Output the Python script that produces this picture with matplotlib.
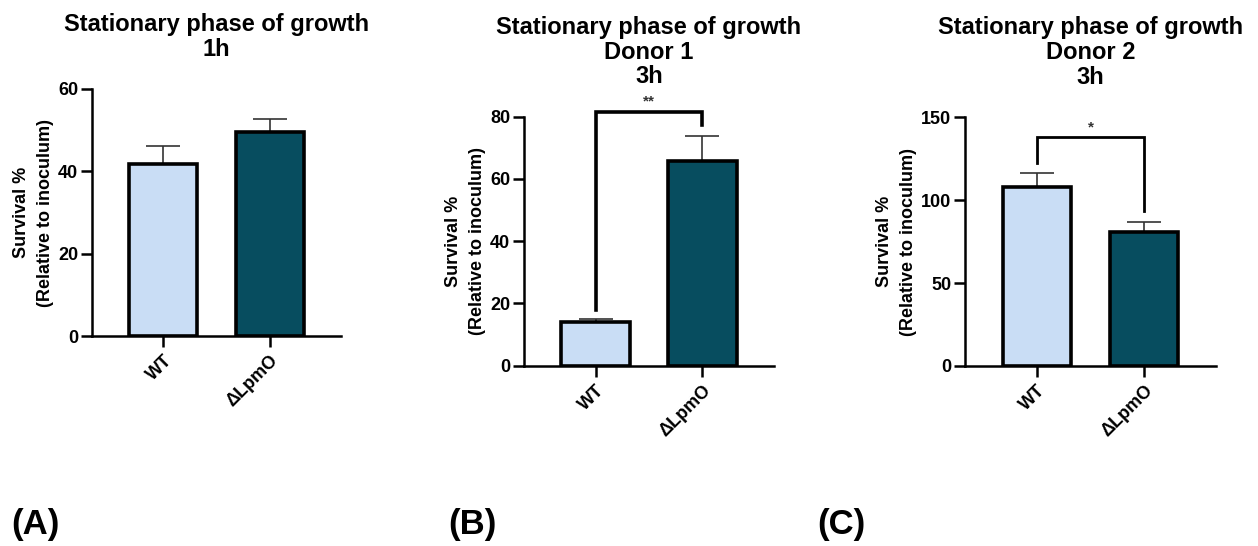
import matplotlib
matplotlib.use('Agg')
import numpy as np
from matplotlib import pyplot as plt

plt.rcParams['font.family'] = ['Liberation Sans', 'DejaVu Sans']
plt.rcParams['font.weight'] = 'bold'

groups = ['WT', 'ΔLpmO']
colors = ['#C9DDF5', '#074D5F']

# panel A: 1h
a_means = [41.8, 49.6]
a_err = [4.4, 3.1]
# panel B: donor 1, 3h
b_means = [14.0, 65.7]
b_err = [1.0, 8.0]
# panel C: donor 2, 3h
c_means = [108.0, 80.6]
c_err = [8.6, 6.4]

titles = ['Stationary phase of growth\n1h',
          'Stationary phase of growth\nDonor 1\n3h',
          'Stationary phase of growth\nDonor 2\n3h']
yticks = [[0, 20, 40, 60], [0, 20, 40, 60, 80], [0, 50, 100, 150]]
panel_labels = ['(A)', '(B)', '(C)']

# brackets: (bar y, left leg end, right leg end, stars)
brackets = [None, (81.6, 17.9, 77.3, '**'), (137.9, 122.3, 93.5, '*')]

fig = plt.figure(figsize=(12.58, 5.46), dpi=100)
rects = [[0.0731, 0.3846, 0.198, 0.4524],
         [0.4165, 0.3302, 0.1987, 0.456],
         [0.7671, 0.3297, 0.1995, 0.4555]]
label_x = [0.009, 0.356, 0.650]

data = [(a_means, a_err), (b_means, b_err), (c_means, c_err)]
x = np.arange(len(groups))

for i, (means, errs) in enumerate(data):
    ax = fig.add_axes(rects[i])
    ax.bar(x, means, width=0.64, color=colors, edgecolor='black', linewidth=2.6, zorder=2)
    ax.errorbar(x, means, yerr=[[0] * len(errs), errs], fmt='none', ecolor='#333333',
                elinewidth=1.2, capsize=12, capthick=1.2, zorder=1)
    ax.set_xlim(-0.67, 1.67)
    ax.set_ylim(0, yticks[i][-1])
    ax.set_yticks(yticks[i])
    ax.set_xticks(x)
    ax.set_xticklabels(groups, rotation=45, ha='right', rotation_mode='anchor', fontsize=13)
    ax.tick_params(axis='y', labelsize=13, length=8, width=1.8, pad=2)
    ax.tick_params(axis='x', length=8, width=1.8)
    for s in ['top', 'right']:
        ax.spines[s].set_visible(False)
    for s in ['left', 'bottom']:
        ax.spines[s].set_linewidth(1.8)
    ax.set_ylabel('Survival %\n(Relative to inoculum)', fontsize=13, fontweight='bold',
                  labelpad=3, linespacing=1.55)
    ax.set_title(titles[i], fontsize=17, fontweight='bold', pad=24, linespacing=1.1)

    br = brackets[i]
    if br is not None:
        ytop, yl, yr, stars = br
        ax.plot([0, 0, 1, 1], [yl, ytop, ytop, yr], color='black', lw=2.6 if i == 1 else 2.0,
                clip_on=False, solid_joinstyle='miter')
        ax.text(0.5, ytop + yticks[i][-1] * 0.012, stars, ha='center', va='bottom',
                fontsize=11, color='#333333', clip_on=False)

    fig.text(label_x[i], 0.04, panel_labels[i], fontsize=25, fontweight='bold', va='center')

fig.savefig('out.png', dpi=100)
